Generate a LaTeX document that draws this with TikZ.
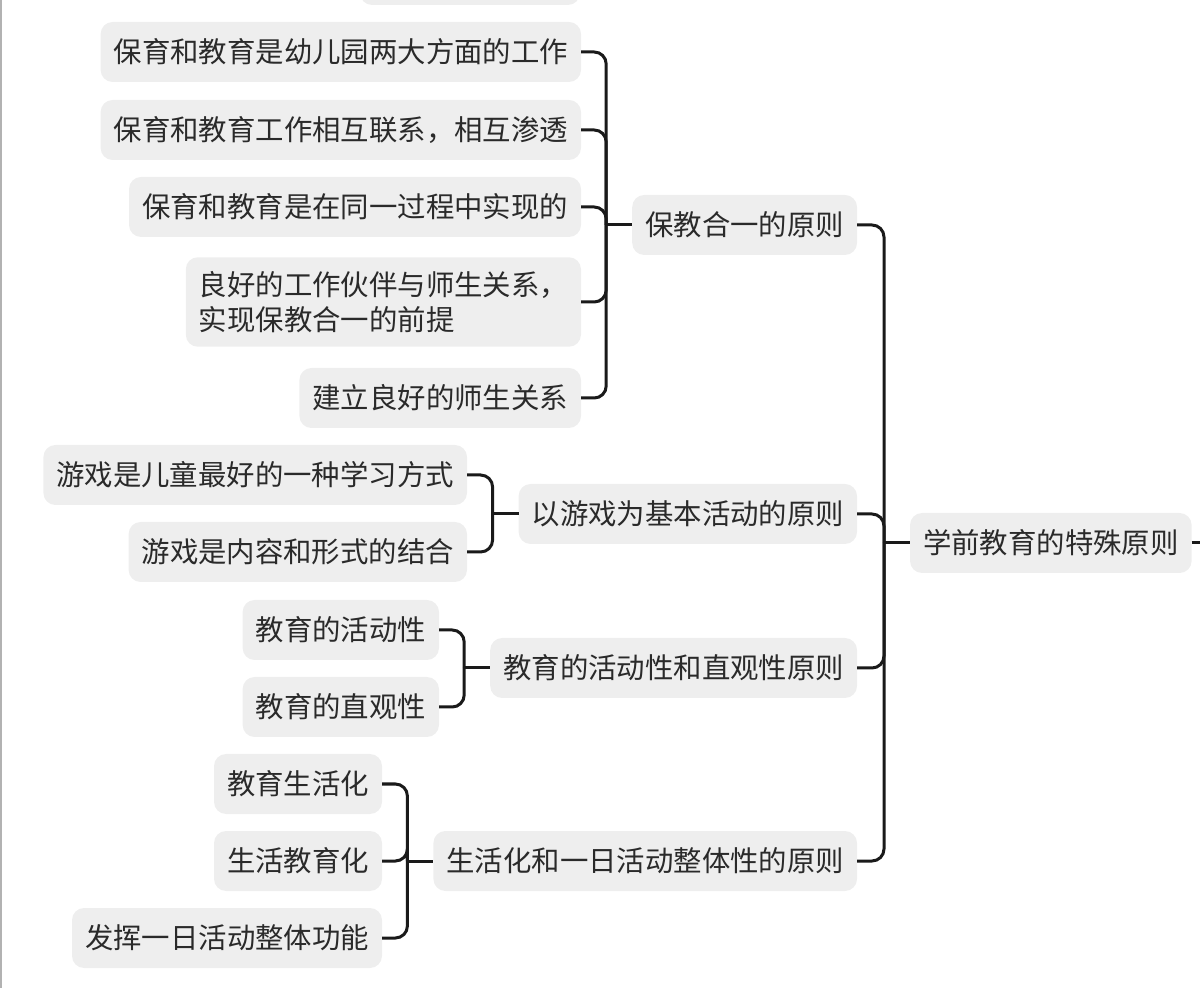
\documentclass[tikz,border=0pt]{standalone}
\usepackage{fontspec}
\setmainfont{Noto Sans CJK SC}
\usetikzlibrary{calc}
\definecolor{boxgray}{HTML}{EEEEEE}
\definecolor{linegray}{HTML}{1A1A1A}
\definecolor{txtgray}{HTML}{2A2A2A}
\begin{document}
\begin{tikzpicture}[x=0.5pt,y=-0.5pt,inner sep=0pt,outer sep=0pt,
    topic/.style={fill=boxgray,rounded corners=6pt,inner xsep=6.5pt,inner ysep=7pt,
      minimum height=30pt,text=txtgray,font=\fontsize{14.2}{17.5}\selectfont},
    link/.style={draw=linegray,line width=1.5pt,rounded corners=6pt}]
    \useasboundingbox (0,0) rectangle (1200,988);
    % frame edge and cut-off topic at the top
    \draw[gray!60,line width=1pt] (1,0) -- (1,988);
    \fill[boxgray,rounded corners=6pt] (360,-60) rectangle (580,5);

    % root
    \node[topic,anchor=west] (root) at (910,543) {学前教育的特殊原则};
    \coordinate (rootj) at ($(root.west)+(-26,0)$);
    \coordinate (out) at (1200,543);

    % principle 1
    \node[topic,anchor=east] (bj) at (857,225) {保教合一的原则};
    \node[topic,anchor=east] (bj1) at (581,52) {保育和教育是幼儿园两大方面的工作};
    \node[topic,anchor=east] (bj2) at (581,130) {保育和教育工作相互联系，相互渗透};
    \node[topic,anchor=east] (bj3) at (581,207) {保育和教育是在同一过程中实现的};
    \node[topic,anchor=east,align=left] (bj4) at (581,302)
    {良好的工作伙伴与师生关系，\\实现保教合一的前提};
    \node[topic,anchor=east] (bj5) at (581,398) {建立良好的师生关系};
    \coordinate (bjj) at ($(bj.west)+(-26,0)$);

    % principle 2
    \node[topic,anchor=east] (yx) at (857,514) {以游戏为基本活动的原则};
    \node[topic,anchor=east] (yx1) at (467,475) {游戏是儿童最好的一种学习方式};
    \node[topic,anchor=east] (yx2) at (467,552) {游戏是内容和形式的结合};
    \coordinate (yxj) at ($(yx.west)+(-26,0)$);

    % principle 3
    \node[topic,anchor=east] (hd) at (857,668) {教育的活动性和直观性原则};
    \node[topic,anchor=east] (hd1) at (439,630) {教育的活动性};
    \node[topic,anchor=east] (hd2) at (439,707) {教育的直观性};
    \coordinate (hdj) at ($(hd.west)+(-26,0)$);

    % principle 4
    \node[topic,anchor=east] (sh) at (857,861) {生活化和一日活动整体性的原则};
    \node[topic,anchor=east] (sh1) at (382,784) {教育生活化};
    \node[topic,anchor=east] (sh2) at (382,861) {生活教育化};
    \node[topic,anchor=east] (sh3) at (382,938) {发挥一日活动整体功能};
    \coordinate (shj) at ($(sh.west)+(-26,0)$);

    % connectors
    \foreach \c in {bj1,bj2,bj3,bj4,bj5} \draw[link] (\c.east) -| (bjj);
    \foreach \c in {yx1,yx2} \draw[link] (\c.east) -| (yxj);
    \foreach \c in {hd1,hd2} \draw[link] (\c.east) -| (hdj);
    \foreach \c in {sh1,sh2,sh3} \draw[link] (\c.east) -| (shj);
    \foreach \p in {bj,yx,hd,sh} {
      \draw[link] (\p j) -- (\p.west);
      \draw[link] (\p.east) -| (rootj);
    }
    \draw[link] (rootj) -- (root.west);
    \draw[link] (root.east) -- (out);
\end{tikzpicture}
\end{document}
